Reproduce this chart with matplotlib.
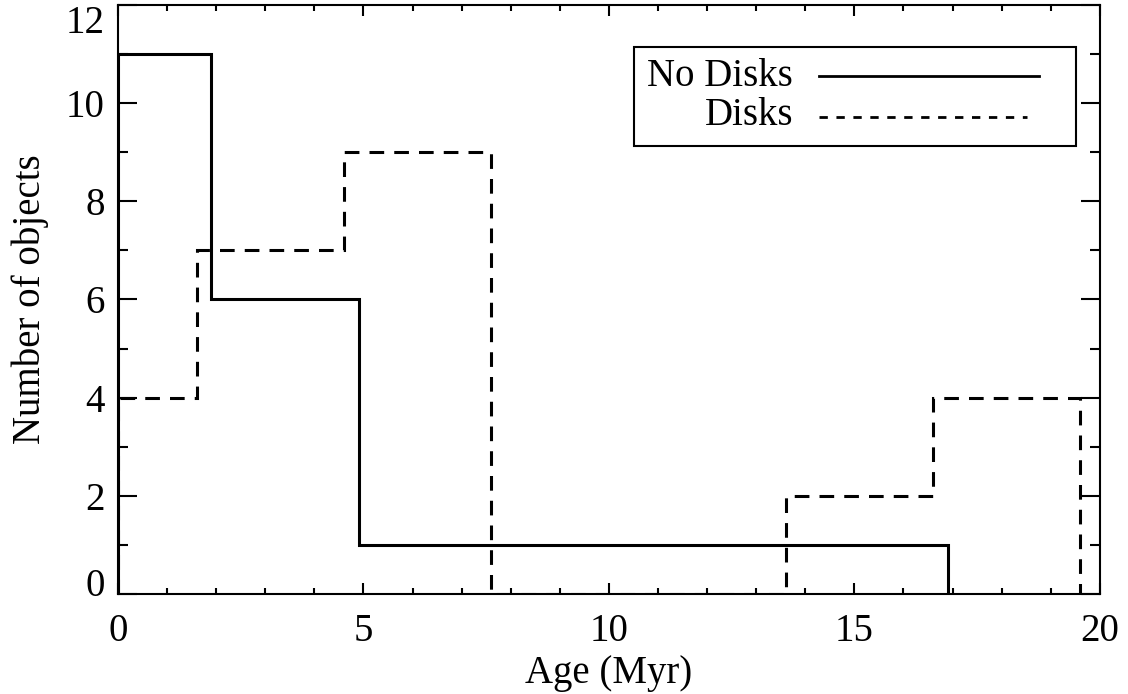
import matplotlib
matplotlib.use('Agg')
import matplotlib.pyplot as plt
from matplotlib.patches import Rectangle
from matplotlib.transforms import ScaledTranslation

plt.rcParams['font.family'] = ['Liberation Serif', 'DejaVu Serif']

# histogram bin edges and counts
nodisk_edges = [0, 1.9, 4.9, 7.9, 10.9, 13.9, 16.9]
nodisk_counts = [11, 6, 1, 1, 1, 1]
disk_edges = [0, 1.6, 4.6, 7.6, 10.6, 13.6, 16.6, 19.6]
disk_counts = [4, 7, 9, 0, 0, 2, 4]

FS = 28

fig = plt.figure(figsize=(11.28, 6.94), dpi=100)
ax = fig.add_axes([0.1046, 0.1441, 0.8704, 0.8487])

ax.stairs(nodisk_counts, nodisk_edges, baseline=0, color='black', lw=2.2)
ax.stairs(disk_counts, disk_edges, baseline=0, color='black', lw=2.2,
          linestyle=(0, (4.8, 3.3)))

ax.set_xlim(0, 20)
ax.set_ylim(0, 12)
ax.set_xticks([0, 5, 10, 15, 20])
ax.set_xticks(range(0, 21), minor=True)
ax.set_yticks(range(0, 13, 2))
ax.set_yticks(range(0, 13), minor=True)

for s in ax.spines.values():
    s.set_linewidth(1.5)

ax.tick_params(axis='both', which='both', direction='in', top=True, right=True,
               width=1.5, labelsize=FS)
ax.tick_params(axis='x', which='major', length=8, pad=13.5)
ax.tick_params(axis='x', which='minor', length=4.3)
ax.tick_params(axis='y', which='major', length=13.7, pad=9.5)
ax.tick_params(axis='y', which='minor', length=7.2)

ax.set_xlabel('Age (Myr)', fontsize=FS, labelpad=4)
ax.set_ylabel('Number of objects', fontsize=FS, labelpad=12)

# nudge the end labels of the y axis like the original
yt = ax.yaxis.get_major_ticks()
lab0 = yt[0].label1
lab0.set_transform(lab0.get_transform() + ScaledTranslation(0, 0.12, fig.dpi_scale_trans))
labN = yt[-1].label1
labN.set_transform(labN.get_transform() + ScaledTranslation(0, -0.145, fig.dpi_scale_trans))

# legend drawn by hand, IDL style
ax.add_patch(Rectangle((0.5255, 0.7606), 0.4501, 0.1681, transform=ax.transAxes,
                       fill=False, edgecolor='black', lw=1.5))
ax.text(0.6874, 0.8625, 'No Disks', transform=ax.transAxes, ha='right',
        va='baseline', fontsize=FS)
ax.text(0.6874, 0.7963, 'Disks', transform=ax.transAxes, ha='right',
        va='baseline', fontsize=FS)
ax.plot([0.7138, 0.9379], [0.8787, 0.8787], transform=ax.transAxes,
        color='black', lw=2)
ax.plot([0.7138, 0.9257], [0.8104, 0.8104], transform=ax.transAxes,
        color='black', lw=2, linestyle=(0, (3, 3.1)))

fig.savefig('out.png', dpi=100)
